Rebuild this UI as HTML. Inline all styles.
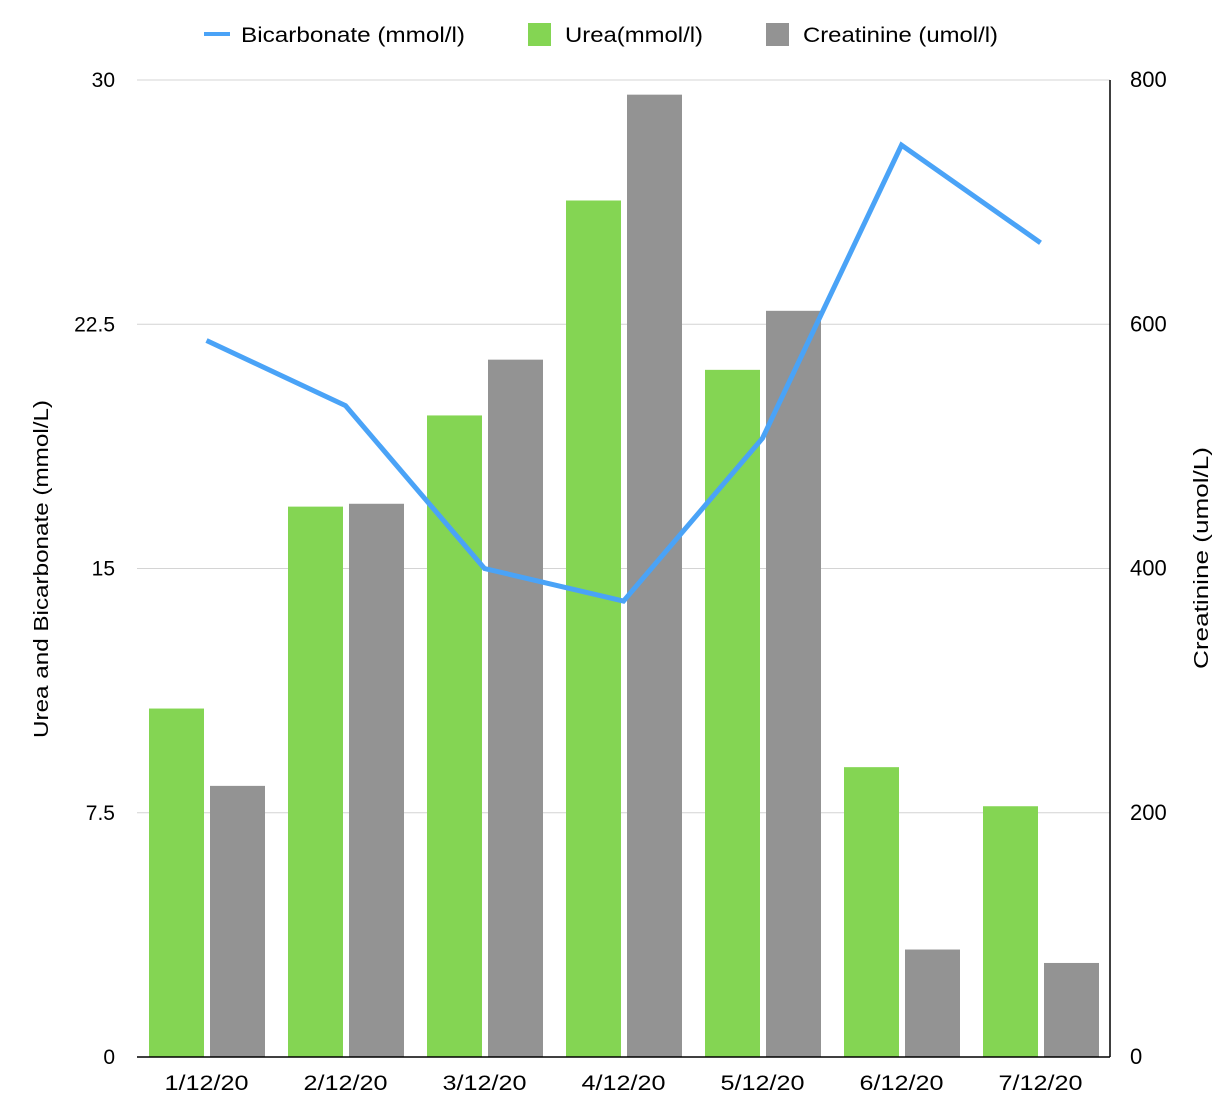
<!DOCTYPE html>
<html><head><meta charset="utf-8"><style>
body{margin:0;background:#fff;font-family:"Liberation Sans",sans-serif;}
svg text{font-family:"Liberation Sans",sans-serif;fill:#000;}
</style></head><body>
<svg id="chart" width="1230" height="1115" xmlns="http://www.w3.org/2000/svg">
<g id="legend">
 <g><line x1="204" y1="34" x2="230" y2="34" stroke="#4aa3f7" stroke-width="4"/><text x="241" y="42" font-size="21" textLength="224" lengthAdjust="spacingAndGlyphs">Bicarbonate (mmol/l)</text></g>
 <g><rect x="528" y="23" width="23" height="23" fill="#84d553"/><text x="565" y="42" font-size="21" textLength="138" lengthAdjust="spacingAndGlyphs">Urea(mmol/l)</text></g>
 <g><rect x="766" y="23" width="23" height="23" fill="#939393"/><text x="803" y="42" font-size="21" textLength="195" lengthAdjust="spacingAndGlyphs">Creatinine (umol/l)</text></g>
</g>
<g id="grid"></g>
<g id="bars"></g>
<g id="line"></g>
<g id="axes"></g>
<text transform="translate(48,569) rotate(-90)" text-anchor="middle" font-size="20" textLength="338" lengthAdjust="spacingAndGlyphs">Urea and Bicarbonate (mmol/L)</text>
<text transform="translate(1208,558) rotate(-90)" text-anchor="middle" font-size="20" textLength="222" lengthAdjust="spacingAndGlyphs">Creatinine (umol/L)</text>
</svg>
<script>
const categories=["1/12/20","2/12/20","3/12/20","4/12/20","5/12/20","6/12/20","7/12/20"];
const urea=[10.7,16.9,19.7,26.3,21.1,8.9,7.7];
const creatinine=[222,453,571,788,611,88,77];
const bicarbonate=[22,20,15,14,19,28,25];
const leftTicks=[0,7.5,15,22.5,30];
const rightTicks=[0,200,400,600,800];
const NS="http://www.w3.org/2000/svg";
const L=137,R=1110,T=80,B=1057;
const gw=(R-L)/categories.length;
const yL=v=>B-(v/30)*(B-T);
const yR=v=>B-(v/800)*(B-T);
const xc=i=>L+gw*(i+0.5);
function mk(tag,attrs,parent){const e=document.createElementNS(NS,tag);for(const k in attrs)e.setAttribute(k,attrs[k]);parent.appendChild(e);return e;}
const grid=document.getElementById('grid'),bars=document.getElementById('bars'),line=document.getElementById('line'),axes=document.getElementById('axes');
leftTicks.forEach((t,i)=>{
 const y=yL(t);
 if(t>0){const g=mk('line',{x1:L,x2:R,y1:y,y2:y,stroke:'#d4d4d4','stroke-width':1},grid);
 
 }
 const tx=mk('text',{x:115,y:y+7,'text-anchor':'end','font-size':21},axes);tx.textContent=String(t);
 
 
});
rightTicks.forEach(t=>{
 const tx=mk('text',{x:1130,y:yR(t)+7,'font-size':22},axes);tx.textContent=String(t);
 
 
});
categories.forEach((c,i)=>{
 const x0=L+gw*i;
 const u=mk('rect',{x:x0+12,y:yL(urea[i]),width:55,height:B-yL(urea[i]),fill:'#84d553'},bars);
 
 
 const cr=mk('rect',{x:x0+73,y:yR(creatinine[i]),width:55,height:B-yR(creatinine[i]),fill:'#939393'},bars);
 
 
 const tx=mk('text',{x:xc(i),y:1090,'text-anchor':'middle','font-size':21,textLength:84,lengthAdjust:'spacingAndGlyphs'},axes);tx.textContent=c;
 
 
});
const pts=bicarbonate.map((v,i)=>xc(i)+','+yL(v)).join(' ');
const pl=mk('polyline',{points:pts,fill:'none',stroke:'#4aa3f7','stroke-width':5,'stroke-linejoin':'miter'},line);


const xa=mk('line',{x1:L,x2:R,y1:B,y2:B,stroke:'#000','stroke-width':1.5},axes);


const ra=mk('line',{x1:R,x2:R,y1:T,y2:B,stroke:'#000','stroke-width':1.5},axes);


</script>
</body></html>
